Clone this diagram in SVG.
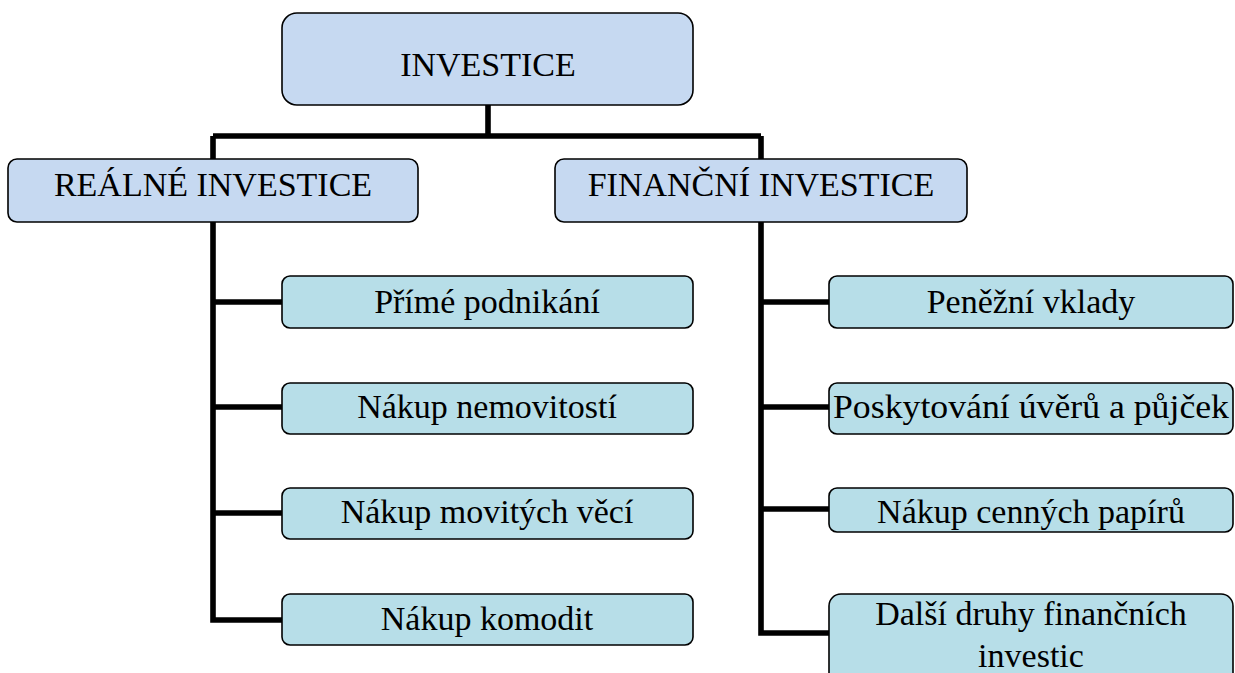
<svg xmlns="http://www.w3.org/2000/svg" width="1235" height="673" viewBox="0 0 1235 673">
<style>
.lvl{fill:#C6D9F1;stroke:#000;stroke-width:1.6}
.leaf{fill:#B7DEE8;stroke:#000;stroke-width:1.6}
text{font-family:'Liberation Serif','DejaVu Serif',serif;font-size:34px;fill:#000;text-anchor:middle}
.conn{fill:none;stroke:#000;stroke-width:5.6;stroke-linejoin:miter}
</style>
<rect width="1235" height="673" fill="#fff"/>
<g id="connectors" class="conn">
<path d="M488,105 V136 M213,136 H761 M213,136 V159"/>
<path d="M761,136 V159"/>
<path d="M213,222 V620 H282 M213,302 H282 M213,407 H282 M213,513 H282"/>
<path d="M761,222 V633 H829 M761,302 H829 M761,407 H829 M761,509 H829"/>
</g>
<g id="investice"><rect class="lvl" x="282" y="13" width="411" height="92" rx="15"/><text x="488" y="76">INVESTICE</text></g>
<g id="realne"><rect class="lvl" x="8" y="159" width="410" height="63" rx="9"/><text x="213" y="196">REÁLNÉ INVESTICE</text></g>
<g id="financni"><rect class="lvl" x="555" y="159" width="412" height="63" rx="9"/><text x="761" y="196">FINANČNÍ INVESTICE</text></g>
<g id="prime"><rect class="leaf" x="282" y="276" width="411" height="52" rx="8"/><text x="487" y="313">Přímé podnikání</text></g>
<g id="nemovitosti"><rect class="leaf" x="282" y="383" width="411" height="51" rx="8"/><text x="487" y="418">Nákup nemovitostí</text></g>
<g id="movite"><rect class="leaf" x="282" y="488" width="411" height="51" rx="8"/><text x="487" y="523">Nákup movitých věcí</text></g>
<g id="komodity"><rect class="leaf" x="282" y="594" width="411" height="51" rx="8"/><text x="487" y="630">Nákup komodit</text></g>
<g id="vklady"><rect class="leaf" x="829" y="276" width="404" height="52" rx="8"/><text x="1031" y="313">Peněžní vklady</text></g>
<g id="uvery"><rect class="leaf" x="829" y="383" width="404" height="51" rx="8"/><text x="1031" y="418" textLength="396" lengthAdjust="spacingAndGlyphs">Poskytování úvěrů a půjček</text></g>
<g id="cenne"><rect class="leaf" x="829" y="488" width="404" height="44" rx="8"/><text x="1031" y="523">Nákup cenných papírů</text></g>
<g id="dalsi"><rect class="leaf" x="829" y="594" width="404" height="100" rx="12"/><text x="1031" y="625">Další druhy finančních</text><text x="1031" y="667">investic</text></g>
</svg>
